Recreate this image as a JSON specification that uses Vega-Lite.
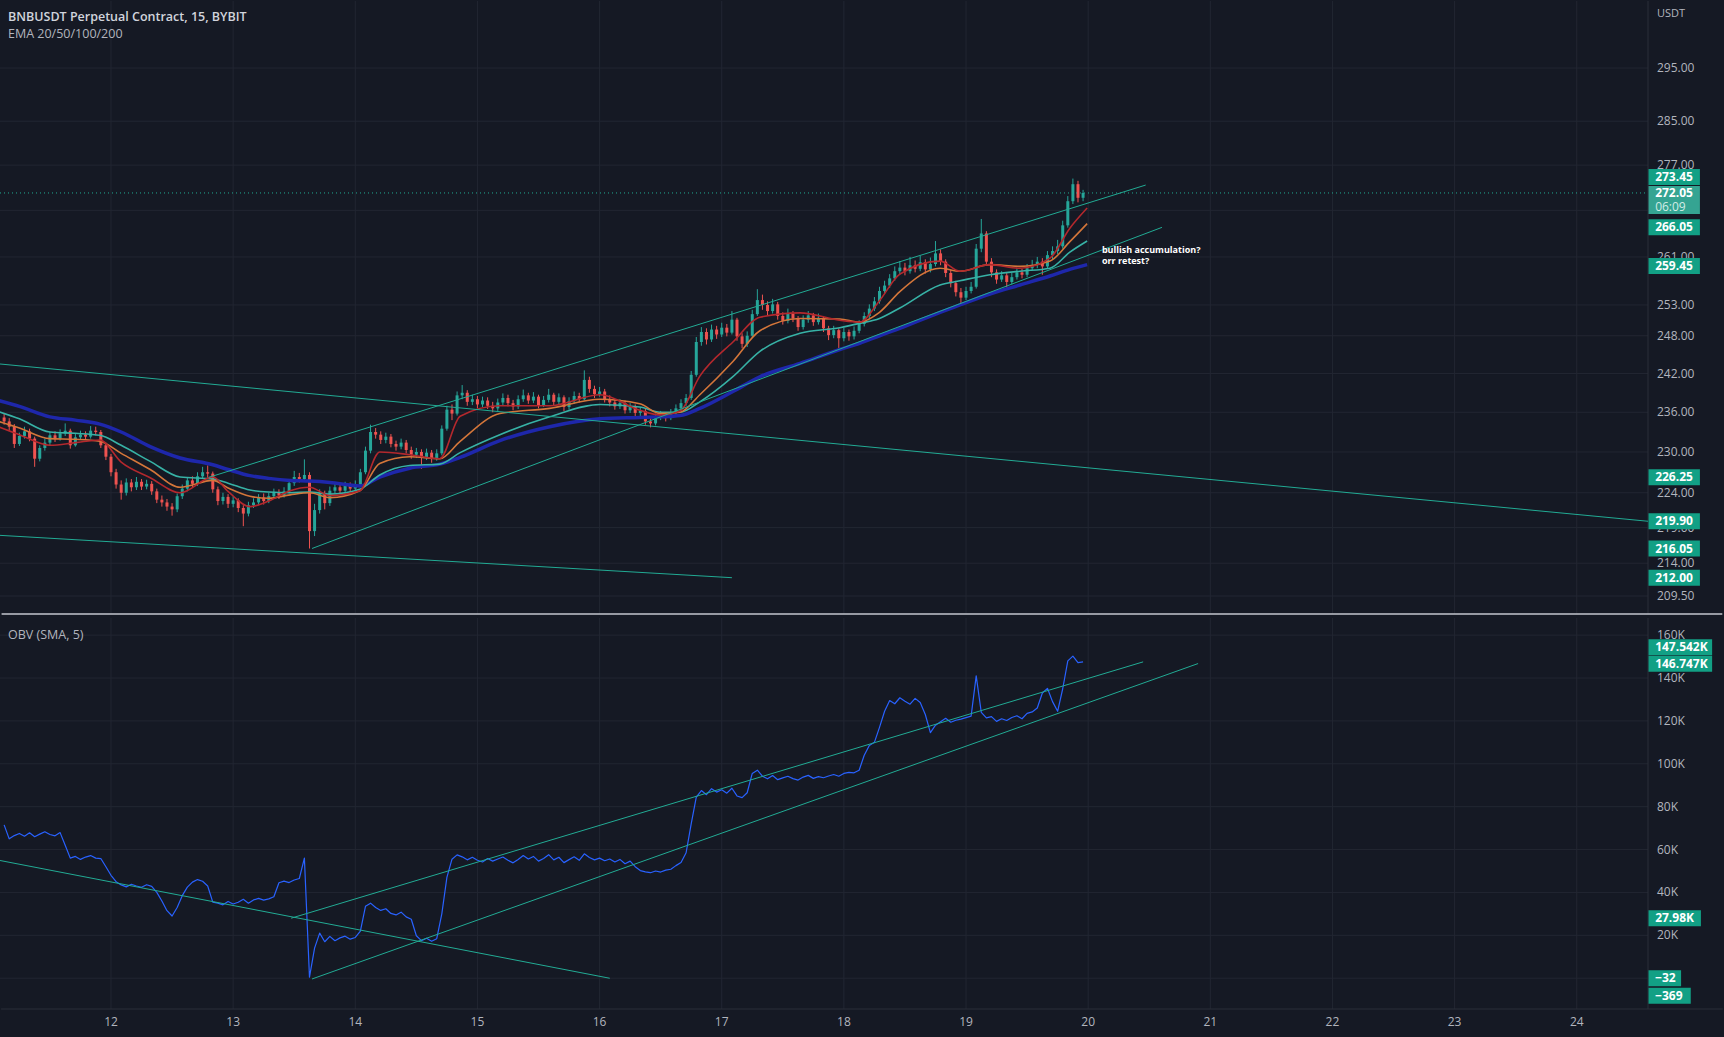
{
"$schema": "https://vega.github.io/schema/vega-lite/v6.json",
"background": "#151924",
"padding": 0,
"spacing": 2,
"config": {"view": {"stroke": null}, "font": "Open Sans"},
"datasets": {
"k": [
{"t":3,"o":235.2,"h":235.8,"l":234.1,"c":234.6,"v":71.5},
{"t":4,"o":234.6,"h":235.1,"l":233.2,"c":233.8,"v":65.0},
{"t":5,"o":233.8,"h":234.2,"l":230.6,"c":231.2,"v":66.5},
{"t":6,"o":231.2,"h":232.9,"l":230.9,"c":232.4,"v":67.5},
{"t":7,"o":232.4,"h":233.8,"l":232.0,"c":233.1,"v":66.2},
{"t":8,"o":233.1,"h":233.5,"l":231.6,"c":232.0,"v":67.8},
{"t":9,"o":232.0,"h":232.3,"l":227.8,"c":229.0,"v":66.0},
{"t":10,"o":229.0,"h":231.0,"l":228.6,"c":230.6,"v":67.2},
{"t":11,"o":230.6,"h":232.0,"l":230.2,"c":231.4,"v":68.3},
{"t":12,"o":231.4,"h":233.0,"l":231.0,"c":232.5,"v":67.0},
{"t":13,"o":232.5,"h":233.1,"l":231.5,"c":232.0,"v":66.4},
{"t":14,"o":232.0,"h":233.4,"l":231.7,"c":232.8,"v":67.9},
{"t":15,"o":232.8,"h":234.3,"l":232.4,"c":233.2,"v":62.0},
{"t":16,"o":233.2,"h":233.5,"l":230.5,"c":231.0,"v":56.0},
{"t":17,"o":231.0,"h":232.7,"l":230.8,"c":232.2,"v":56.8},
{"t":18,"o":232.2,"h":233.2,"l":231.8,"c":232.6,"v":55.4},
{"t":19,"o":232.6,"h":233.1,"l":231.9,"c":232.3,"v":56.5},
{"t":20,"o":232.3,"h":233.9,"l":232.0,"c":233.2,"v":57.2},
{"t":21,"o":233.2,"h":233.8,"l":232.5,"c":233.0,"v":56.0},
{"t":22,"o":233.0,"h":233.3,"l":230.6,"c":231.0,"v":55.8},
{"t":23,"o":231.0,"h":231.4,"l":228.8,"c":229.3,"v":52.0},
{"t":24,"o":229.3,"h":229.7,"l":226.4,"c":227.0,"v":48.0},
{"t":25,"o":227.0,"h":227.5,"l":224.6,"c":225.2,"v":45.0},
{"t":26,"o":225.2,"h":225.8,"l":223.0,"c":224.0,"v":43.5},
{"t":27,"o":224.0,"h":226.1,"l":223.6,"c":225.5,"v":42.6},
{"t":28,"o":225.5,"h":226.0,"l":224.2,"c":224.8,"v":43.8},
{"t":29,"o":224.8,"h":226.3,"l":224.4,"c":225.6,"v":43.0},
{"t":30,"o":225.6,"h":226.0,"l":224.4,"c":224.9,"v":42.4},
{"t":31,"o":224.9,"h":225.9,"l":224.5,"c":225.3,"v":43.6},
{"t":32,"o":225.3,"h":225.7,"l":223.7,"c":224.2,"v":42.8},
{"t":33,"o":224.2,"h":224.6,"l":222.5,"c":223.0,"v":40.0},
{"t":34,"o":223.0,"h":223.6,"l":222.0,"c":222.6,"v":36.0},
{"t":35,"o":222.6,"h":223.1,"l":221.4,"c":222.0,"v":31.5},
{"t":36,"o":222.0,"h":222.5,"l":220.7,"c":221.6,"v":29.0},
{"t":37,"o":221.6,"h":223.9,"l":221.2,"c":223.5,"v":33.0},
{"t":38,"o":223.5,"h":225.2,"l":223.1,"c":224.6,"v":38.5},
{"t":39,"o":224.6,"h":226.3,"l":224.2,"c":225.8,"v":42.5},
{"t":40,"o":225.8,"h":226.4,"l":224.8,"c":225.3,"v":44.8},
{"t":41,"o":225.3,"h":227.0,"l":225.0,"c":226.4,"v":46.0},
{"t":42,"o":226.4,"h":227.8,"l":226.0,"c":227.0,"v":45.2},
{"t":43,"o":227.0,"h":228.0,"l":226.2,"c":226.8,"v":43.0},
{"t":44,"o":226.8,"h":227.1,"l":224.0,"c":224.5,"v":35.5},
{"t":45,"o":224.5,"h":224.9,"l":222.2,"c":222.8,"v":35.0},
{"t":46,"o":222.8,"h":224.0,"l":222.3,"c":223.4,"v":34.2},
{"t":47,"o":223.4,"h":223.8,"l":221.8,"c":222.4,"v":35.8},
{"t":48,"o":222.4,"h":223.5,"l":221.9,"c":222.9,"v":34.6},
{"t":49,"o":222.9,"h":223.2,"l":221.2,"c":221.8,"v":35.4},
{"t":50,"o":221.8,"h":222.2,"l":219.2,"c":221.0,"v":36.8},
{"t":51,"o":221.0,"h":222.7,"l":220.6,"c":222.2,"v":35.0},
{"t":52,"o":222.2,"h":223.2,"l":221.8,"c":222.6,"v":36.5},
{"t":53,"o":222.6,"h":223.8,"l":222.2,"c":223.3,"v":37.2},
{"t":54,"o":223.3,"h":223.9,"l":222.3,"c":222.8,"v":36.4},
{"t":55,"o":222.8,"h":224.0,"l":222.5,"c":223.5,"v":37.0},
{"t":56,"o":223.5,"h":224.6,"l":223.1,"c":224.0,"v":38.0},
{"t":57,"o":224.0,"h":224.5,"l":223.1,"c":223.6,"v":44.5},
{"t":58,"o":223.6,"h":224.8,"l":223.3,"c":224.2,"v":45.3},
{"t":59,"o":224.2,"h":226.0,"l":223.9,"c":225.4,"v":44.6},
{"t":60,"o":225.4,"h":227.2,"l":225.0,"c":226.3,"v":45.8},
{"t":61,"o":226.3,"h":226.9,"l":225.5,"c":226.0,"v":46.5},
{"t":62,"o":226.0,"h":228.9,"l":225.6,"c":226.6,"v":56.0},
{"t":63,"o":226.6,"h":227.0,"l":216.05,"c":218.5,"v":0.5},
{"t":64,"o":218.5,"h":222.4,"l":217.8,"c":221.5,"v":14.0},
{"t":65,"o":221.5,"h":224.5,"l":221.0,"c":223.8,"v":21.0},
{"t":66,"o":223.8,"h":224.3,"l":221.6,"c":222.5,"v":17.0},
{"t":67,"o":222.5,"h":224.9,"l":222.1,"c":224.3,"v":19.5},
{"t":68,"o":224.3,"h":225.4,"l":223.9,"c":224.8,"v":17.5},
{"t":69,"o":224.8,"h":225.3,"l":223.8,"c":224.3,"v":18.8},
{"t":70,"o":224.3,"h":225.6,"l":223.9,"c":225.0,"v":19.6},
{"t":71,"o":225.0,"h":225.5,"l":224.1,"c":224.6,"v":18.2},
{"t":72,"o":224.6,"h":225.8,"l":224.2,"c":225.2,"v":19.0},
{"t":73,"o":225.2,"h":227.5,"l":224.9,"c":227.0,"v":22.0},
{"t":74,"o":227.0,"h":230.8,"l":226.7,"c":230.2,"v":33.5},
{"t":75,"o":230.2,"h":234.1,"l":229.8,"c":233.0,"v":35.0},
{"t":76,"o":233.0,"h":233.6,"l":232.0,"c":232.6,"v":33.0},
{"t":77,"o":232.6,"h":233.1,"l":231.2,"c":231.8,"v":31.6},
{"t":78,"o":231.8,"h":232.9,"l":231.3,"c":232.3,"v":32.4},
{"t":79,"o":232.3,"h":232.7,"l":230.7,"c":231.2,"v":30.2},
{"t":80,"o":231.2,"h":231.7,"l":230.2,"c":230.8,"v":29.5},
{"t":81,"o":230.8,"h":232.0,"l":230.4,"c":231.4,"v":30.8},
{"t":82,"o":231.4,"h":231.8,"l":229.8,"c":230.3,"v":28.6},
{"t":83,"o":230.3,"h":230.8,"l":229.0,"c":229.6,"v":27.5},
{"t":84,"o":229.6,"h":230.6,"l":229.1,"c":230.0,"v":19.8},
{"t":85,"o":230.0,"h":230.4,"l":227.5,"c":229.2,"v":17.5},
{"t":86,"o":229.2,"h":230.5,"l":228.8,"c":229.9,"v":18.6},
{"t":87,"o":229.9,"h":230.3,"l":228.4,"c":229.0,"v":17.2},
{"t":88,"o":229.0,"h":230.4,"l":228.7,"c":229.8,"v":18.4},
{"t":89,"o":229.8,"h":234.0,"l":229.5,"c":233.5,"v":30.0},
{"t":90,"o":233.5,"h":237.0,"l":233.2,"c":236.4,"v":47.0},
{"t":91,"o":236.4,"h":237.2,"l":234.8,"c":235.8,"v":55.5},
{"t":92,"o":235.8,"h":239.2,"l":235.5,"c":238.6,"v":57.5},
{"t":93,"o":238.6,"h":240.2,"l":238.0,"c":239.0,"v":56.6},
{"t":94,"o":239.0,"h":239.4,"l":237.0,"c":237.6,"v":55.2},
{"t":95,"o":237.6,"h":238.7,"l":237.1,"c":238.0,"v":56.4},
{"t":96,"o":238.0,"h":238.5,"l":236.6,"c":237.2,"v":55.0},
{"t":97,"o":237.2,"h":238.4,"l":236.8,"c":237.8,"v":54.2},
{"t":98,"o":237.8,"h":238.3,"l":236.5,"c":237.0,"v":55.8},
{"t":99,"o":237.0,"h":237.6,"l":236.0,"c":236.6,"v":54.6},
{"t":100,"o":236.6,"h":238.1,"l":236.2,"c":237.5,"v":55.6},
{"t":101,"o":237.5,"h":238.9,"l":237.1,"c":238.2,"v":56.5},
{"t":102,"o":238.2,"h":238.7,"l":236.9,"c":237.4,"v":55.0},
{"t":103,"o":237.4,"h":237.9,"l":236.3,"c":236.9,"v":53.8},
{"t":104,"o":236.9,"h":238.6,"l":236.5,"c":238.0,"v":55.4},
{"t":105,"o":238.0,"h":239.5,"l":237.6,"c":238.6,"v":57.2},
{"t":106,"o":238.6,"h":239.0,"l":237.3,"c":237.8,"v":55.6},
{"t":107,"o":237.8,"h":239.1,"l":237.4,"c":238.4,"v":56.8},
{"t":108,"o":238.4,"h":238.7,"l":236.6,"c":237.1,"v":54.6},
{"t":109,"o":237.1,"h":238.5,"l":236.8,"c":237.9,"v":55.8},
{"t":110,"o":237.9,"h":239.6,"l":237.5,"c":238.7,"v":57.6},
{"t":111,"o":238.7,"h":239.0,"l":237.1,"c":237.6,"v":55.2},
{"t":112,"o":237.6,"h":238.9,"l":237.2,"c":238.3,"v":56.4},
{"t":113,"o":238.3,"h":238.6,"l":236.2,"c":236.8,"v":53.9},
{"t":114,"o":236.8,"h":238.3,"l":236.4,"c":237.7,"v":55.3},
{"t":115,"o":237.7,"h":239.2,"l":237.3,"c":238.5,"v":56.6},
{"t":116,"o":238.5,"h":239.0,"l":237.5,"c":238.0,"v":55.0},
{"t":117,"o":238.0,"h":242.5,"l":237.8,"c":241.0,"v":58.0},
{"t":118,"o":241.0,"h":241.5,"l":239.0,"c":239.6,"v":56.3},
{"t":119,"o":239.6,"h":240.1,"l":238.2,"c":238.8,"v":55.2},
{"t":120,"o":238.8,"h":239.9,"l":238.4,"c":239.2,"v":56.0},
{"t":121,"o":239.2,"h":239.6,"l":237.5,"c":238.0,"v":54.8},
{"t":122,"o":238.0,"h":238.6,"l":236.9,"c":237.5,"v":55.6},
{"t":123,"o":237.5,"h":238.0,"l":236.4,"c":236.9,"v":54.2},
{"t":124,"o":236.9,"h":238.0,"l":236.5,"c":237.4,"v":55.4},
{"t":125,"o":237.4,"h":237.8,"l":235.8,"c":236.3,"v":53.4},
{"t":126,"o":236.3,"h":237.4,"l":235.9,"c":236.8,"v":54.6},
{"t":127,"o":236.8,"h":237.2,"l":235.4,"c":235.9,"v":52.0},
{"t":128,"o":235.9,"h":236.8,"l":235.4,"c":236.2,"v":50.2},
{"t":129,"o":236.2,"h":236.5,"l":234.1,"c":234.6,"v":49.6},
{"t":130,"o":234.6,"h":235.2,"l":233.7,"c":234.3,"v":49.2},
{"t":131,"o":234.3,"h":235.8,"l":234.0,"c":235.2,"v":50.0},
{"t":132,"o":235.2,"h":236.2,"l":234.8,"c":235.6,"v":49.5},
{"t":133,"o":235.6,"h":236.0,"l":234.6,"c":235.1,"v":50.4},
{"t":134,"o":235.1,"h":236.5,"l":234.8,"c":236.0,"v":50.8},
{"t":135,"o":236.0,"h":237.2,"l":235.6,"c":236.6,"v":52.5},
{"t":136,"o":236.6,"h":238.0,"l":236.2,"c":237.4,"v":54.0},
{"t":137,"o":237.4,"h":238.8,"l":237.0,"c":238.2,"v":58.5},
{"t":138,"o":238.2,"h":242.4,"l":237.9,"c":241.8,"v":72.0},
{"t":139,"o":241.8,"h":247.8,"l":241.5,"c":247.0,"v":84.5},
{"t":140,"o":247.0,"h":249.4,"l":246.4,"c":248.6,"v":87.5},
{"t":141,"o":248.6,"h":249.2,"l":246.6,"c":247.4,"v":85.6},
{"t":142,"o":247.4,"h":249.8,"l":247.0,"c":249.0,"v":88.4},
{"t":143,"o":249.0,"h":249.6,"l":247.5,"c":248.2,"v":86.8},
{"t":144,"o":248.2,"h":250.1,"l":247.8,"c":249.3,"v":87.9},
{"t":145,"o":249.3,"h":249.9,"l":247.9,"c":248.5,"v":86.3},
{"t":146,"o":248.5,"h":252.0,"l":248.2,"c":250.6,"v":88.6},
{"t":147,"o":250.6,"h":250.9,"l":247.2,"c":247.9,"v":85.0},
{"t":148,"o":247.9,"h":248.4,"l":246.0,"c":246.7,"v":84.2},
{"t":149,"o":246.7,"h":248.7,"l":246.2,"c":248.0,"v":86.5},
{"t":150,"o":248.0,"h":252.2,"l":247.7,"c":251.5,"v":95.5},
{"t":151,"o":251.5,"h":255.6,"l":251.2,"c":253.8,"v":97.0},
{"t":152,"o":253.8,"h":254.7,"l":252.2,"c":253.0,"v":94.2},
{"t":153,"o":253.0,"h":253.6,"l":251.3,"c":252.0,"v":93.0},
{"t":154,"o":252.0,"h":254.0,"l":251.6,"c":253.1,"v":94.5},
{"t":155,"o":253.1,"h":253.5,"l":250.6,"c":251.2,"v":92.6},
{"t":156,"o":251.2,"h":251.8,"l":249.8,"c":250.4,"v":93.4},
{"t":157,"o":250.4,"h":252.4,"l":250.0,"c":251.6,"v":94.2},
{"t":158,"o":251.6,"h":252.0,"l":250.2,"c":250.8,"v":93.1},
{"t":159,"o":250.8,"h":251.2,"l":248.8,"c":249.4,"v":92.4},
{"t":160,"o":249.4,"h":251.3,"l":249.0,"c":250.6,"v":93.8},
{"t":161,"o":250.6,"h":252.0,"l":250.1,"c":251.3,"v":94.6},
{"t":162,"o":251.3,"h":251.7,"l":249.6,"c":250.2,"v":93.2},
{"t":163,"o":250.2,"h":251.6,"l":249.8,"c":250.9,"v":94.0},
{"t":164,"o":250.9,"h":251.2,"l":248.6,"c":249.2,"v":93.5},
{"t":165,"o":249.2,"h":249.6,"l":247.3,"c":248.1,"v":94.3},
{"t":166,"o":248.1,"h":249.6,"l":247.6,"c":248.9,"v":95.0},
{"t":167,"o":248.9,"h":249.2,"l":246.0,"c":247.6,"v":94.2},
{"t":168,"o":247.6,"h":249.3,"l":247.1,"c":248.6,"v":95.5},
{"t":169,"o":248.6,"h":249.0,"l":247.2,"c":247.9,"v":96.0},
{"t":170,"o":247.9,"h":249.5,"l":247.4,"c":248.8,"v":95.8},
{"t":171,"o":248.8,"h":250.5,"l":248.4,"c":249.9,"v":97.0},
{"t":172,"o":249.9,"h":251.8,"l":249.5,"c":251.2,"v":104.0},
{"t":173,"o":251.2,"h":253.1,"l":250.8,"c":252.4,"v":108.5},
{"t":174,"o":252.4,"h":254.3,"l":252.0,"c":253.6,"v":110.0},
{"t":175,"o":253.6,"h":256.0,"l":253.2,"c":255.3,"v":117.0},
{"t":176,"o":255.3,"h":257.0,"l":254.8,"c":256.2,"v":124.5},
{"t":177,"o":256.2,"h":258.1,"l":255.8,"c":257.4,"v":129.5},
{"t":178,"o":257.4,"h":259.4,"l":257.0,"c":258.6,"v":128.0},
{"t":179,"o":258.6,"h":260.3,"l":258.0,"c":259.2,"v":130.8},
{"t":180,"o":259.2,"h":260.0,"l":257.9,"c":258.6,"v":129.2},
{"t":181,"o":258.6,"h":261.0,"l":258.2,"c":259.6,"v":127.8},
{"t":182,"o":259.6,"h":260.4,"l":258.4,"c":259.0,"v":130.5},
{"t":183,"o":259.0,"h":261.2,"l":258.6,"c":260.1,"v":128.6},
{"t":184,"o":260.1,"h":260.6,"l":258.2,"c":258.9,"v":123.0},
{"t":185,"o":258.9,"h":260.9,"l":258.4,"c":259.8,"v":114.5},
{"t":186,"o":259.8,"h":263.7,"l":259.4,"c":261.6,"v":118.0},
{"t":187,"o":261.6,"h":262.3,"l":259.6,"c":260.2,"v":119.6},
{"t":188,"o":260.2,"h":260.6,"l":257.6,"c":258.3,"v":121.2},
{"t":189,"o":258.3,"h":258.8,"l":255.9,"c":256.6,"v":119.4},
{"t":190,"o":256.6,"h":257.0,"l":254.4,"c":255.1,"v":120.3},
{"t":191,"o":255.1,"h":255.8,"l":253.3,"c":254.2,"v":120.8},
{"t":192,"o":254.2,"h":256.0,"l":253.8,"c":255.3,"v":121.5},
{"t":193,"o":255.3,"h":256.8,"l":254.9,"c":256.0,"v":122.2},
{"t":194,"o":256.0,"h":263.2,"l":255.7,"c":262.4,"v":141.0},
{"t":195,"o":262.4,"h":267.5,"l":261.8,"c":265.0,"v":124.0},
{"t":196,"o":265.0,"h":265.4,"l":259.5,"c":260.2,"v":121.4},
{"t":197,"o":260.2,"h":260.8,"l":257.6,"c":258.4,"v":122.0},
{"t":198,"o":258.4,"h":258.9,"l":256.5,"c":257.2,"v":119.8},
{"t":199,"o":257.2,"h":258.6,"l":256.8,"c":257.9,"v":121.0},
{"t":200,"o":257.9,"h":258.3,"l":255.9,"c":256.8,"v":120.2},
{"t":201,"o":256.8,"h":258.3,"l":256.4,"c":257.6,"v":121.6},
{"t":202,"o":257.6,"h":259.1,"l":257.2,"c":258.4,"v":122.4},
{"t":203,"o":258.4,"h":259.0,"l":257.4,"c":258.0,"v":121.0},
{"t":204,"o":258.0,"h":259.8,"l":257.6,"c":259.1,"v":123.5},
{"t":205,"o":259.1,"h":260.5,"l":258.7,"c":259.6,"v":124.2},
{"t":206,"o":259.6,"h":261.0,"l":259.1,"c":260.2,"v":126.0},
{"t":207,"o":260.2,"h":260.8,"l":258.0,"c":259.4,"v":133.0},
{"t":208,"o":259.4,"h":262.0,"l":259.0,"c":261.3,"v":135.2},
{"t":209,"o":261.3,"h":262.8,"l":260.6,"c":262.0,"v":129.0},
{"t":210,"o":262.0,"h":263.9,"l":261.5,"c":262.8,"v":124.5},
{"t":211,"o":262.8,"h":267.2,"l":262.4,"c":266.4,"v":135.0},
{"t":212,"o":266.4,"h":271.5,"l":266.0,"c":270.6,"v":148.0},
{"t":213,"o":270.6,"h":274.6,"l":270.1,"c":273.6,"v":150.2},
{"t":214,"o":273.6,"h":274.2,"l":270.4,"c":271.2,"v":147.2},
{"t":215,"o":271.2,"h":272.6,"l":270.6,"c":272.05,"v":147.5}
],
"ema": [
{"t":1.5,"e20":233.9,"e50":234.7,"e100":236.2,"e200":237.9},
{"t":6,"e20":232.6,"e50":233.6,"e100":235.0,"e200":236.9},
{"t":12,"e20":231.0,"e50":232.0,"e100":233.0,"e200":235.3},
{"t":17,"e20":231.4,"e50":231.9,"e100":232.8,"e200":234.8},
{"t":21.8,"e20":231.8,"e50":231.6,"e100":232.5,"e200":234.2},
{"t":26,"e20":228.5,"e50":229.8,"e100":231.0,"e200":233.0},
{"t":31.7,"e20":226.2,"e50":227.4,"e100":228.6,"e200":230.8},
{"t":37.6,"e20":224.0,"e50":224.8,"e100":226.3,"e200":229.1},
{"t":44,"e20":226.3,"e50":225.8,"e100":226.0,"e200":228.1},
{"t":47,"e20":224.2,"e50":224.7,"e100":225.4,"e200":227.4},
{"t":51.3,"e20":222.0,"e50":223.5,"e100":224.4,"e200":226.5},
{"t":55,"e20":222.8,"e50":223.2,"e100":224.1,"e200":226.1},
{"t":59.2,"e20":224.3,"e50":223.7,"e100":224.0,"e200":225.8},
{"t":63,"e20":224.8,"e50":224.0,"e100":224.1,"e200":225.7},
{"t":67,"e20":223.6,"e50":223.3,"e100":223.8,"e200":225.5},
{"t":72.9,"e20":224.3,"e50":224.3,"e100":224.5,"e200":225.0},
{"t":76.8,"e20":230.0,"e50":228.3,"e100":226.6,"e200":226.3},
{"t":82.7,"e20":229.6,"e50":229.3,"e100":228.0,"e200":227.6},
{"t":88.6,"e20":229.0,"e50":229.0,"e100":228.2,"e200":228.2},
{"t":92.6,"e20":235.4,"e50":231.6,"e100":229.9,"e200":229.2},
{"t":100.4,"e20":237.0,"e50":235.8,"e100":232.6,"e200":231.7},
{"t":110.2,"e20":237.0,"e50":236.6,"e100":235.3,"e200":233.8},
{"t":120.1,"e20":238.7,"e50":238.0,"e100":237.2,"e200":235.0},
{"t":127.9,"e20":236.3,"e50":237.3,"e100":236.8,"e200":235.2},
{"t":131.9,"e20":235.6,"e50":235.8,"e100":236.0,"e200":235.3},
{"t":135.8,"e20":236.2,"e50":236.0,"e100":236.0,"e200":235.5},
{"t":139.7,"e20":241.6,"e50":238.7,"e100":237.6,"e200":236.6},
{"t":146.2,"e20":247.0,"e50":243.9,"e100":241.5,"e200":239.2},
{"t":151.5,"e20":251.0,"e50":248.8,"e100":245.5,"e200":241.5},
{"t":159.4,"e20":251.7,"e50":250.8,"e100":248.4,"e200":243.6},
{"t":167.2,"e20":250.5,"e50":250.7,"e100":249.3,"e200":245.8},
{"t":171.1,"e20":250.2,"e50":250.2,"e100":250.0,"e200":246.8},
{"t":175,"e20":253.7,"e50":251.8,"e100":250.8,"e200":248.0},
{"t":179,"e20":258.1,"e50":255.2,"e100":252.5,"e200":249.2},
{"t":186.9,"e20":260.3,"e50":259.1,"e100":256.3,"e200":251.8},
{"t":190.8,"e20":258.6,"e50":258.6,"e100":257.0,"e200":253.0},
{"t":196.7,"e20":259.7,"e50":259.7,"e100":258.0,"e200":254.8},
{"t":202.6,"e20":259.1,"e50":259.4,"e100":258.6,"e200":256.3},
{"t":208.5,"e20":260.8,"e50":260.3,"e100":259.1,"e200":257.8},
{"t":212.4,"e20":265.9,"e50":263.6,"e100":261.8,"e200":258.9},
{"t":215.8,"e20":269.4,"e50":266.7,"e100":263.7,"e200":259.7}
],
"tl": [
{"id":"a","t":2.19,"p":243.5},{"id":"a","t":326.0,"p":219.9},
{"id":"b","t":2.19,"p":217.9},{"id":"b","t":146.0,"p":212.0},
{"id":"c","t":43.2,"p":226.25},{"id":"c","t":227.3,"p":273.45},
{"id":"d","t":63.5,"p":216.05},{"id":"d","t":230.5,"p":266.05}
],
"otl": [
{"id":"a","t":2.19,"v":54.9},{"id":"a","t":122.0,"v":-0.03},
{"id":"b","t":59.4,"v":27.98},{"id":"b","t":226.8,"v":147.54},
{"id":"c","t":63.5,"v":-0.37},{"id":"c","t":237.6,"v":146.75}
],
"pb": [
{"y":274.9,"lab":"273.45"},
{"y":266.05,"lab":"266.05"},
{"y":259.45,"lab":"259.45"},
{"y":226.25,"lab":"226.25"},
{"y":219.9,"lab":"219.90"},
{"y":216.05,"lab":"216.05"},
{"y":212.0,"lab":"212.00"}
],
"ob": [
{"y":154.4,"lab":"147.542K"},
{"y":146.7,"lab":"146.747K"},
{"y":27.98,"lab":"27.98K"},
{"y":-0.03,"lab":"−32"},
{"y":-8.2,"lab":"−369"}
],
"pt": [{"p":295},{"p":285},{"p":277},{"p":269},{"p":261},{"p":253},{"p":248},{"p":242},{"p":236},{"p":230},{"p":224},{"p":219},{"p":214},{"p":209.5}],
"vt": [{"v":0},{"v":20},{"v":40},{"v":60},{"v":80},{"v":100},{"v":120},{"v":140},{"v":160}],
"dt": [{"d":24},{"d":48},{"d":72},{"d":96},{"d":120},{"d":144},{"d":168},{"d":192},{"d":216},{"d":240},{"d":264},{"d":288},{"d":312}]
},
"vconcat": [
{
"width": 1648,
"height": 613,
"layer": [
{
"data": {"name": "pt"},
"mark": {"type": "rule", "color": "#222632", "strokeWidth": 1, "clip": true},
"encoding": {
"x": {"datum": 2.19, "type": "quantitative", "scale": {"domain": [2.19, 326], "nice": false, "zero": false, "padding": 0}, "axis": null},
"x2": {"datum": 326},
"y": {"field": "p", "type": "quantitative", "scale": {"type": "log", "domain": [207.07, 308.1], "nice": false, "zero": false, "padding": 0}, "axis": null}
}
},
{
"data": {"name": "dt"},
"mark": {"type": "rule", "color": "#222632", "strokeWidth": 1, "clip": true},
"encoding": {
"x": {"field": "d", "type": "quantitative", "axis": null},
"y": {"datum": 207.07, "type": "quantitative", "axis": null},
"y2": {"datum": 308.1}
}
},
{
"data": {"values": [{}]},
"mark": {"type": "rule", "color": "#2a2e39", "strokeWidth": 1},
"encoding": {
"x": {"datum": 326, "type": "quantitative", "axis": null},
"y": {"datum": 207.07, "type": "quantitative", "axis": null},
"y2": {"datum": 308.1}
}
},
{
"data": {"name": "k"},
"mark": {"type": "rule", "strokeWidth": 1, "clip": true},
"encoding": {
"x": {"field": "t", "type": "quantitative", "scale": {"domain": [2.19, 326], "nice": false, "zero": false, "padding": 0}, "axis": null},
"y": {"field": "l", "type": "quantitative", "scale": {"type": "log", "domain": [207.07, 308.1], "nice": false, "zero": false, "padding": 0}, "axis": null},
"y2": {"field": "h"},
"color": {"condition": {"test": "datum.c >= datum.o", "value": "#26a69a"}, "value": "#ef5350"}
}
},
{
"data": {"name": "k"},
"mark": {"type": "bar", "width": 3, "clip": true},
"encoding": {
"x": {"field": "t", "type": "quantitative", "scale": {"domain": [2.19, 326], "nice": false, "zero": false, "padding": 0}, "axis": null},
"y": {"field": "o", "type": "quantitative", "scale": {"type": "log", "domain": [207.07, 308.1], "nice": false, "zero": false, "padding": 0}, "axis": null},
"y2": {"field": "c"},
"color": {"condition": {"test": "datum.c >= datum.o", "value": "#26a69a"}, "value": "#ef5350"}
}
},
{
"data": {"name": "ema"},
"mark": {"type": "line", "interpolate": "monotone", "color": "#1e27ab", "strokeWidth": 3.5, "strokeJoin": "round", "clip": true},
"encoding": {
"x": {"field": "t", "type": "quantitative", "axis": null},
"y": {"field": "e200", "type": "quantitative", "axis": null}
}
},
{
"data": {"name": "ema"},
"transform": [{"fold": ["e100", "e50", "e20"], "as": ["k", "v"]}],
"mark": {"type": "line", "interpolate": "monotone", "strokeWidth": 1.6, "strokeJoin": "round", "clip": true},
"encoding": {
"x": {"field": "t", "type": "quantitative", "axis": null},
"y": {"field": "v", "type": "quantitative", "axis": null},
"color": {"field": "k", "type": "nominal", "scale": {"domain": ["e100", "e50", "e20"], "range": ["#37b2a6", "#d4763a", "#b3282d"]}, "legend": null}
}
},
{
"data": {"name": "tl"},
"mark": {"type": "line", "color": "#22ab94", "strokeWidth": 1, "strokeJoin": "round", "clip": true},
"encoding": {
"x": {"field": "t", "type": "quantitative", "axis": null},
"y": {"field": "p", "type": "quantitative", "axis": null},
"detail": {"field": "id", "type": "nominal"}
}
},
{
"data": {"values": [{}]},
"mark": {"type": "rule", "color": "#22ab94", "strokeDash": [1, 3], "strokeWidth": 1, "clip": true},
"encoding": {
"x": {"datum": 2.19, "type": "quantitative", "axis": null},
"x2": {"datum": 326},
"y": {"datum": 272.05, "type": "quantitative", "axis": null}
}
},
{
"data": {"values": [{}]},
"mark": {"type": "rule", "color": "#c3c6ce", "strokeWidth": 1.5},
"encoding": {
"x": {"datum": 2.5, "type": "quantitative", "axis": null},
"x2": {"datum": 340.6},
"y": {"datum": 207.07, "type": "quantitative", "axis": null}
}
},
{
"data": {"name": "pt"},
"transform": [{"filter": "datum.p != 269"}],
"mark": {"type": "text", "align": "left", "baseline": "middle", "color": "#b2b5be", "fontSize": 12},
"encoding": {
"x": {"datum": 327.75, "type": "quantitative", "axis": null},
"y": {"field": "p", "type": "quantitative", "axis": null},
"text": {"field": "p", "format": ".2f"}
}
},
{
"data": {"name": "pb"},
"mark": {"type": "rect", "height": 16, "color": "#12a085"},
"encoding": {
"x": {"datum": 326.1, "type": "quantitative", "axis": null},
"x2": {"datum": 336.2},
"y": {"field": "y", "type": "quantitative", "axis": null}
}
},
{
"data": {"values": [{"y": 270.8}]},
"mark": {"type": "rect", "height": 28, "color": "#35a492"},
"encoding": {
"x": {"datum": 326.1, "type": "quantitative", "axis": null},
"x2": {"datum": 336.2},
"y": {"field": "y", "type": "quantitative", "axis": null}
}
},
{
"data": {"name": "pb"},
"mark": {"type": "text", "align": "left", "baseline": "middle", "color": "#ffffff", "fontSize": 12, "fontWeight": "bold"},
"encoding": {
"x": {"datum": 327.4, "type": "quantitative", "axis": null},
"y": {"field": "y", "type": "quantitative", "axis": null},
"text": {"field": "lab"}
}
},
{
"data": {"values": [{"y": 272.05, "lab": "272.05"}]},
"mark": {"type": "text", "align": "left", "baseline": "middle", "color": "#ffffff", "fontSize": 12, "fontWeight": "bold"},
"encoding": {
"x": {"datum": 327.4, "type": "quantitative", "axis": null},
"y": {"field": "y", "type": "quantitative", "axis": null},
"text": {"field": "lab"}
}
},
{
"data": {"values": [{"y": 269.6, "lab": "06:09"}]},
"mark": {"type": "text", "align": "left", "baseline": "middle", "color": "#d2ece7", "fontSize": 12},
"encoding": {
"x": {"datum": 327.4, "type": "quantitative", "axis": null},
"y": {"field": "y", "type": "quantitative", "axis": null},
"text": {"field": "lab"}
}
},
{
"data": {"values": [{}]},
"mark": {"type": "text", "align": "left", "baseline": "middle", "color": "#d1d4dc", "fontSize": 12.5, "fontWeight": 600},
"encoding": {
"x": {"datum": 3.76, "type": "quantitative", "axis": null},
"y": {"datum": 304.9, "type": "quantitative", "axis": null},
"text": {"value": "BNBUSDT Perpetual Contract, 15, BYBIT"}
}
},
{
"data": {"values": [{}]},
"mark": {"type": "text", "align": "left", "baseline": "middle", "color": "#b2b5be", "fontSize": 12.5},
"encoding": {
"x": {"datum": 3.76, "type": "quantitative", "axis": null},
"y": {"datum": 301.6, "type": "quantitative", "axis": null},
"text": {"value": "EMA 20/50/100/200"}
}
},
{
"data": {"values": [{}]},
"mark": {"type": "text", "align": "left", "baseline": "middle", "color": "#b2b5be", "fontSize": 11},
"encoding": {
"x": {"datum": 327.75, "type": "quantitative", "axis": null},
"y": {"datum": 305.5, "type": "quantitative", "axis": null},
"text": {"value": "USDT"}
}
},
{
"data": {"values": [{}]},
"mark": {"type": "text", "align": "left", "baseline": "middle", "color": "#ffffff", "fontSize": 9, "fontWeight": "bold"},
"encoding": {
"x": {"datum": 218.7, "type": "quantitative", "axis": null},
"y": {"datum": 262.1, "type": "quantitative", "axis": null},
"text": {"value": "bullish accumulation?"}
}
},
{
"data": {"values": [{}]},
"mark": {"type": "text", "align": "left", "baseline": "middle", "color": "#ffffff", "fontSize": 9, "fontWeight": "bold"},
"encoding": {
"x": {"datum": 218.7, "type": "quantitative", "axis": null},
"y": {"datum": 260.35, "type": "quantitative", "axis": null},
"text": {"value": "orr retest?"}
}
}
]
},
{
"width": 1648,
"height": 391,
"layer": [
{
"data": {"name": "vt"},
"mark": {"type": "rule", "color": "#222632", "strokeWidth": 1, "clip": true},
"encoding": {
"x": {"datum": 2.19, "type": "quantitative", "scale": {"domain": [2.19, 326], "nice": false, "zero": false, "padding": 0}, "axis": null},
"x2": {"datum": 326},
"y": {"field": "v", "type": "quantitative", "scale": {"domain": [-14.37, 168.0], "nice": false, "zero": false, "padding": 0}, "axis": null}
}
},
{
"data": {"name": "dt"},
"mark": {"type": "rule", "color": "#222632", "strokeWidth": 1, "clip": true},
"encoding": {
"x": {"field": "d", "type": "quantitative", "axis": null},
"y": {"datum": -14.37, "type": "quantitative", "axis": null},
"y2": {"datum": 168.0}
}
},
{
"data": {"values": [{}]},
"mark": {"type": "rule", "color": "#2a2e39", "strokeWidth": 1},
"encoding": {
"x": {"datum": 326, "type": "quantitative", "axis": null},
"y": {"datum": -14.37, "type": "quantitative", "axis": null},
"y2": {"datum": 168.0}
}
},
{
"data": {"values": [{}]},
"mark": {"type": "rule", "color": "#2a2e39", "strokeWidth": 1},
"encoding": {
"x": {"datum": 2.4, "type": "quantitative", "axis": null},
"x2": {"datum": 340.7},
"y": {"datum": -14.37, "type": "quantitative", "axis": null}
}
},
{
"data": {"values": [{}]},
"mark": {"type": "rule", "color": "#151924", "strokeWidth": 1, "opacity": 0},
"encoding": {
"x": {"datum": 100, "type": "quantitative", "axis": null},
"y": {"datum": -28.5, "type": "quantitative", "axis": null},
"y2": {"datum": -14.37}
}
},
{
"data": {"name": "k"},
"mark": {"type": "line", "color": "#2962ff", "strokeWidth": 1.2, "strokeJoin": "round", "clip": true},
"encoding": {
"x": {"field": "t", "type": "quantitative", "scale": {"domain": [2.19, 326], "nice": false, "zero": false, "padding": 0}, "axis": null},
"y": {"field": "v", "type": "quantitative", "scale": {"domain": [-14.37, 168.0], "nice": false, "zero": false, "padding": 0}, "axis": null}
}
},
{
"data": {"name": "otl"},
"mark": {"type": "line", "color": "#22ab94", "strokeWidth": 1, "strokeJoin": "round", "clip": true},
"encoding": {
"x": {"field": "t", "type": "quantitative", "axis": null},
"y": {"field": "v", "type": "quantitative", "axis": null},
"detail": {"field": "id", "type": "nominal"}
}
},
{
"data": {"name": "vt"},
"transform": [{"filter": "datum.v != 0"}, {"calculate": "datum.v + 'K'", "as": "lab"}],
"mark": {"type": "text", "align": "left", "baseline": "middle", "color": "#b2b5be", "fontSize": 12},
"encoding": {
"x": {"datum": 327.75, "type": "quantitative", "axis": null},
"y": {"field": "v", "type": "quantitative", "axis": null},
"text": {"field": "lab"}
}
},
{
"data": {"name": "dt"},
"transform": [{"calculate": "datum.d / 24 + 11", "as": "lab"}],
"mark": {"type": "text", "align": "center", "baseline": "middle", "color": "#b2b5be", "fontSize": 12},
"encoding": {
"x": {"field": "d", "type": "quantitative", "axis": null},
"y": {"datum": -20.4, "type": "quantitative", "axis": null},
"text": {"field": "lab"}
}
},
{
"data": {"name": "ob"},
"transform": [{"filter": "indexof(['147.542K','146.747K'], datum.lab) >= 0"}],
"mark": {"type": "rect", "height": 16, "color": "#12a085"},
"encoding": {
"x": {"datum": 326.1, "type": "quantitative", "axis": null},
"x2": {"datum": 338.6},
"y": {"field": "y", "type": "quantitative", "axis": null}
}
},
{
"data": {"name": "ob"},
"transform": [{"filter": "datum.lab == '27.98K'"}],
"mark": {"type": "rect", "height": 16, "color": "#12a085"},
"encoding": {
"x": {"datum": 326.1, "type": "quantitative", "axis": null},
"x2": {"datum": 336.4},
"y": {"field": "y", "type": "quantitative", "axis": null}
}
},
{
"data": {"name": "ob"},
"transform": [{"filter": "datum.lab == '−32'"}],
"mark": {"type": "rect", "height": 16, "color": "#12a085"},
"encoding": {
"x": {"datum": 326.1, "type": "quantitative", "axis": null},
"x2": {"datum": 332.5},
"y": {"field": "y", "type": "quantitative", "axis": null}
}
},
{
"data": {"name": "ob"},
"transform": [{"filter": "datum.lab == '−369'"}],
"mark": {"type": "rect", "height": 16, "color": "#12a085"},
"encoding": {
"x": {"datum": 326.1, "type": "quantitative", "axis": null},
"x2": {"datum": 334.4},
"y": {"field": "y", "type": "quantitative", "axis": null}
}
},
{
"data": {"name": "ob"},
"mark": {"type": "text", "align": "left", "baseline": "middle", "color": "#ffffff", "fontSize": 12, "fontWeight": "bold"},
"encoding": {
"x": {"datum": 327.4, "type": "quantitative", "axis": null},
"y": {"field": "y", "type": "quantitative", "axis": null},
"text": {"field": "lab"}
}
},
{
"data": {"values": [{}]},
"mark": {"type": "text", "align": "left", "baseline": "middle", "color": "#b2b5be", "fontSize": 12.5},
"encoding": {
"x": {"datum": 3.76, "type": "quantitative", "axis": null},
"y": {"datum": 160.1, "type": "quantitative", "axis": null},
"text": {"value": "OBV (SMA, 5)"}
}
}
]
}
]
}
